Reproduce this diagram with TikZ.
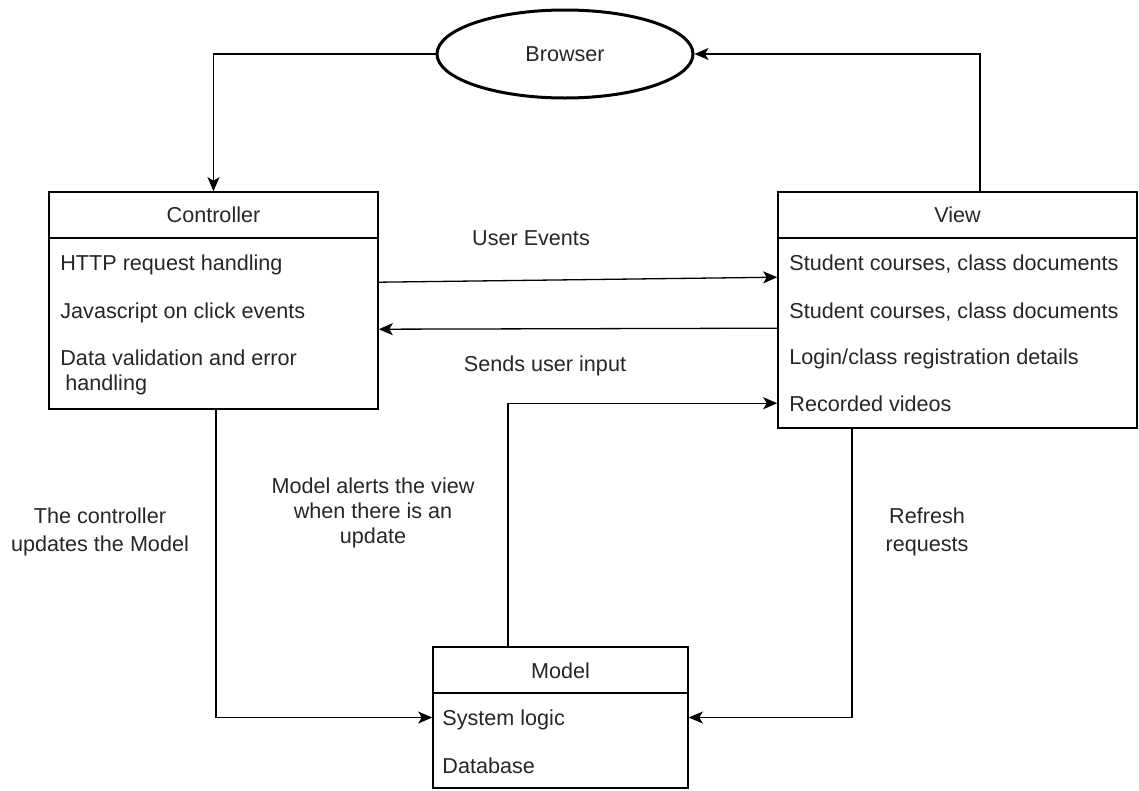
\documentclass[tikz,border=0pt]{standalone}
\usepackage{fontspec}
\setmainfont{Liberation Sans}
\usetikzlibrary{arrows.meta,calc,shapes.geometric}
\definecolor{txt}{HTML}{262626}
\begin{document}
\begin{tikzpicture}[x=1pt,y=-1pt,
  every node/.style={font=\fontsize{21.6}{25}\selectfont, text=txt},
  box/.style={draw=black, line width=1.6pt, rectangle, inner sep=0pt},
  divider/.style={line width=1.6pt, draw=black},
  conn/.style={line width=1.3pt, draw=black},
  arr/.style={conn, -{Stealth[length=14pt,width=12pt,inset=3.5pt]}},
  row/.style={anchor=base west, inner sep=0pt},
  ttl/.style={anchor=base, inner sep=0pt},
  lbl/.style={anchor=base, align=center, inner sep=0pt}]
\useasboundingbox (0,0) rectangle (1139,790);

% Browser
\node[draw=black, ellipse, line width=3pt, minimum width=256pt, minimum height=88pt, inner sep=0pt] (browser) at (565,54) {Browser};

% Controller
\node[box, minimum width=329pt, minimum height=217pt] (ctrl) at (213.5,300.5) {};
\draw[divider] ($(ctrl.north west)+(0,47)$) -- ($(ctrl.north east)+(0,47)$);
\node[ttl] (ctrlT) at ($(ctrl.north)+(0,31)$) {Controller};
\node[row] (c1) at ($(ctrl.north west)+(12,79)$) {HTTP request handling};
\node[row] (c2) at ($(ctrl.north west)+(12,127)$) {Javascript on click events};
\node[row] (c3) at ($(ctrl.north west)+(12,174)$) {Data validation and error};
\node[row] (c3b) at ($(ctrl.north west)+(17,199)$) {handling};

% View
\node[box, minimum width=359pt, minimum height=236pt] (view) at (957.5,310) {};
\draw[divider] ($(view.north west)+(0,47)$) -- ($(view.north east)+(0,47)$);
\node[ttl] (viewT) at ($(view.north)+(0,31)$) {View};
\node[row] (v1) at ($(view.north west)+(12,79)$) {Student courses, class documents};
\node[row] (v2) at ($(view.north west)+(12,127)$) {Student courses, class documents};
\node[row] (v3) at ($(view.north west)+(12,173)$) {Login/class registration details};
\node[row] (v4) at ($(view.north west)+(12,220)$) {Recorded videos};

% Model
\node[box, minimum width=255pt, minimum height=141pt] (model) at (560.5,717.5) {};
\draw[divider] ($(model.north west)+(0,47)$) -- ($(model.north east)+(0,47)$);
\node[ttl] (modelT) at ($(model.north)+(0,32)$) {Model};
\node[row] (m1) at ($(model.north west)+(10,79)$) {System logic};
\node[row] (m2) at ($(model.north west)+(10,127)$) {Database};

% Connectors
\draw[arr] (browser.west) -| (ctrl.north);
\draw[arr] ($(view.north)+(22.5,0)$) |- (browser.east);
\draw[arr] ($(ctrl.north east)+(0,91)$) -- ($(view.north west)+(0,86)$);
\draw[arr] ($(view.north west)+(0,137)$) -- ($(ctrl.north east)+(0,138)$);
\draw[arr] ($(ctrl.south)+(2.5,0)$) |- (model.west);
\draw[arr] ($(view.south)+(-105.5,0)$) |- (model.east);
\draw[arr] ($(model.north)+(-52.5,0)$) |- ($(view.north west)+(0,212)$);

% Connector labels (anchored at the baseline of their last line)
\node[lbl] (lue) at (531,245) {User Events};
\node[lbl] (lsu) at (545,371) {Sends user input};
\node[lbl, font=\fontsize{21.6}{28}\selectfont] (lcu) at (100,551) {The controller\\updates the Model};
\node[lbl] (lma) at (373,543) {Model alerts the view\\when there is an\\update};
\node[lbl, font=\fontsize{21.6}{28}\selectfont] (lrr) at (927,551) {Refresh\\requests};
\end{tikzpicture}
\end{document}
